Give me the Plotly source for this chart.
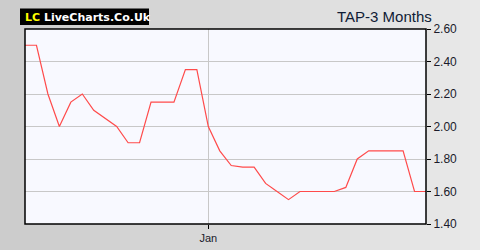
import plotly.graph_objects as go

prices = [2.50, 2.50, 2.20, 2.00, 2.15, 2.20, 2.10, 2.05, 2.00, 1.90, 1.90, 2.15,
          2.15, 2.15, 2.35, 2.35, 2.00, 1.85, 1.76, 1.75, 1.75, 1.65, 1.60, 1.55,
          1.60, 1.60, 1.60, 1.60, 1.625, 1.80, 1.85, 1.85, 1.85, 1.85, 1.60, 1.60]
x_idx = list(range(len(prices)))
y_ticks = [1.40, 1.60, 1.80, 2.00, 2.20, 2.40, 2.60]
x_tick_pos = [16]
x_tick_text = ["Jan"]
title_text = "TAP-3 Months"

W, H = 480, 250
L, R, T, B = 25, 426, 29, 224


def px_x(p):
    return (p - L) / (R - L)


def px_y(p):
    return (B - p) / (B - T)


shapes = []
n = 48
c0, c1 = 0xcc, 0xe9
for i in range(n):
    c = int(c0 + (c1 - c0) * i / (n - 1))
    col = f"rgb({c},{c},{c})"
    shapes.append(dict(type="rect", xref="paper", yref="paper",
                       x0=px_x(i * W / n), x1=px_x((i + 1) * W / n + 0.5),
                       y0=px_y(H), y1=px_y(0), fillcolor=col,
                       line=dict(width=0), layer="below"))
shapes.append(dict(type="rect", xref="paper", yref="paper",
                   x0=0, x1=1, y0=0, y1=1, fillcolor="#f8f9ff",
                   line=dict(width=0), layer="below"))
# logo box
shapes.append(dict(type="rect", xref="paper", yref="paper",
                   x0=px_x(20), x1=px_x(149), y0=px_y(25), y1=px_y(8.5),
                   fillcolor="#000000", line=dict(width=0), layer="above"))
# plot frame
shapes.append(dict(type="rect", xref="paper", yref="paper",
                   x0=0, x1=1, y0=0, y1=1, fillcolor="rgba(0,0,0,0)",
                   line=dict(color="#000000", width=1.5), layer="above"))

fig = go.Figure()
fig.add_trace(go.Scatter(x=x_idx, y=prices, mode="lines",
                         line=dict(color="#ff4b4b", width=1.2),
                         hoverinfo="skip", showlegend=False))

fig.update_layout(
    width=W, height=H,
    margin=dict(l=L, r=W - R, t=T, b=H - B, pad=0, autoexpand=False),
    paper_bgcolor="#dadada",
    plot_bgcolor="rgba(0,0,0,0)",
    shapes=shapes,
    xaxis=dict(range=[0, len(prices) - 1], tickvals=x_tick_pos, ticktext=x_tick_text,
               showgrid=True, gridcolor="#c8c8c8", gridwidth=1, automargin=False,
               ticks="outside", ticklen=4, tickcolor="#000",
               tickfont=dict(family="Liberation Sans, Arial", size=11, color="#1a1a2a"),
               zeroline=False, showline=False, fixedrange=True),
    yaxis=dict(range=[1.40, 2.60], tickvals=y_ticks, automargin=False,
               ticktext=[f"{v:.2f}" for v in y_ticks], side="right",
               showgrid=True, gridcolor="#c8c8c8", gridwidth=1,
               ticks="outside", ticklen=4, tickcolor="#000",
               tickfont=dict(family="Liberation Sans, Arial", size=12, color="#1a1a2a"),
               zeroline=False, showline=False, fixedrange=True),
    annotations=[
        dict(xref="paper", yref="paper", x=px_x(23), y=px_y(17), xanchor="left",
             yanchor="middle", showarrow=False,
             text="<b><span style='color:#ffff00'>LC</span> LiveCharts.Co.Uk</b>",
             font=dict(family="DejaVu Sans", size=11, color="#ffffff")),
        dict(xref="paper", yref="paper", x=px_x(434), y=px_y(16), xanchor="right",
             yanchor="middle", showarrow=False, text=title_text,
             font=dict(family="Liberation Sans, Arial", size=15, color="#101c36")),
    ],
)

fig.write_html("out.html")
